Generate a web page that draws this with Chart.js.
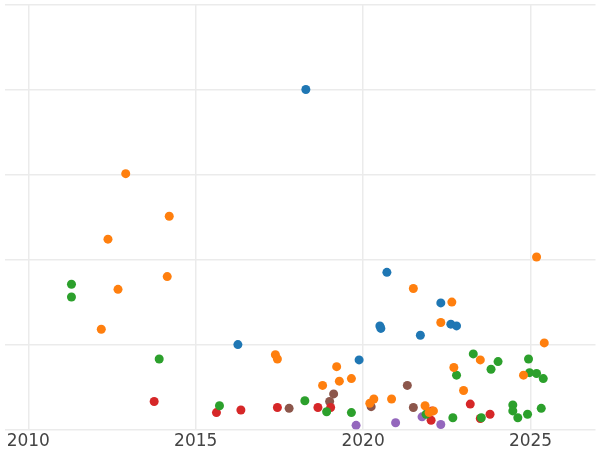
<!DOCTYPE html>
<html lang="en">
<head>
<meta charset="UTF-8">
<title>Scatter</title>
<script src="https://cdn.jsdelivr.net/npm/chart.js"></script>
<style>
  body { margin: 0; background: #fff; }
  #wrap { width: 600px; height: 450px; }
</style>
</head>
<body>
<div id="wrap"><canvas id="c"></canvas></div>
<script>
// points as [year, value]
const blueSeries = [[2018.29,4.0],[2020.71,1.85],[2016.26,1.0],[2020.5,1.22],[2020.53,1.19],[2019.88,0.82],[2022.32,1.49],[2021.71,1.11],[2022.62,1.24],[2022.79,1.22]];
const orangeSeries = [[2012.91,3.01],[2014.21,2.51],[2012.38,2.24],[2014.15,1.80],[2012.68,1.65],[2012.18,1.18],[2017.38,0.88],[2017.44,0.83],[2025.18,2.03],[2025.41,1.02],[2021.5,1.66],[2022.65,1.50],[2022.32,1.26],[2022.71,0.73],[2023.5,0.82],[2023.0,0.46],[2024.79,0.64],[2019.21,0.74],[2019.29,0.57],[2019.65,0.60],[2018.79,0.52],[2020.85,0.36],[2020.32,0.36],[2020.2,0.31],[2021.85,0.28],[2022.1,0.22],[2021.97,0.20]];
const greenSeries = [[2011.29,1.71],[2011.29,1.56],[2013.91,0.83],[2015.71,0.28],[2018.26,0.34],[2018.91,0.21],[2019.65,0.20],[2023.29,0.89],[2022.79,0.64],[2023.82,0.71],[2024.03,0.80],[2024.94,0.83],[2024.97,0.67],[2025.18,0.66],[2025.38,0.60],[2022.68,0.14],[2023.53,0.14],[2024.47,0.29],[2024.47,0.22],[2024.62,0.14],[2024.91,0.18],[2025.32,0.25],[2021.88,0.18]];
const redSeries = [[2013.76,0.33],[2015.62,0.20],[2016.35,0.23],[2017.44,0.26],[2018.65,0.26],[2019.03,0.26],[2022.06,0.22],[2022.03,0.11],[2023.2,0.30],[2023.5,0.13],[2023.79,0.18]];
const purpleSeries = [[2019.79,0.05],[2020.97,0.08],[2021.76,0.15],[2022.32,0.06]];
const brownSeries = [[2017.79,0.25],[2019.12,0.42],[2019.0,0.33],[2020.24,0.27],[2021.32,0.52],[2021.5,0.26]];
const xTicks = [2010, 2015, 2020, 2025];

function ds(pts, color) {
  return { data: pts.map(p => ({x: p[0], y: p[1]})), backgroundColor: color, borderWidth: 0, pointRadius: 4.5 };
}

new Chart(document.getElementById('c'), {
  type: 'scatter',
  data: { datasets: [
    ds(blueSeries, '#1f77b4'), ds(orangeSeries, '#ff7f0e'), ds(greenSeries, '#2ca02c'),
    ds(redSeries, '#d62728'), ds(purpleSeries, '#9467bd'), ds(brownSeries, '#8c564b')
  ]},
  options: {
    responsive: true, maintainAspectRatio: false, animation: false,
    layout: { padding: { top: -4, left: -4, right: 0, bottom: -4 } },
    plugins: { legend: { display: false }, tooltip: { enabled: false } },
    scales: {
      x: {
        min: 2009.29, max: 2026.94,
        afterBuildTicks: a => { a.ticks = xTicks.map(v => ({value: v})); },
        grid: { color: '#ebebeb', lineWidth: 1.5, drawTicks: false },
        border: { display: false },
        ticks: { color: '#444', font: { family: 'DejaVu Sans', size: 17 }, padding: 2, callback: v => String(v) }
      },
      y: {
        min: 0, max: 5,
        ticks: { display: false, stepSize: 1 },
        grid: { color: '#ebebeb', lineWidth: 1.5, drawTicks: false },
        border: { display: false }
      }
    }
  }
});
</script>
</body>
</html>
